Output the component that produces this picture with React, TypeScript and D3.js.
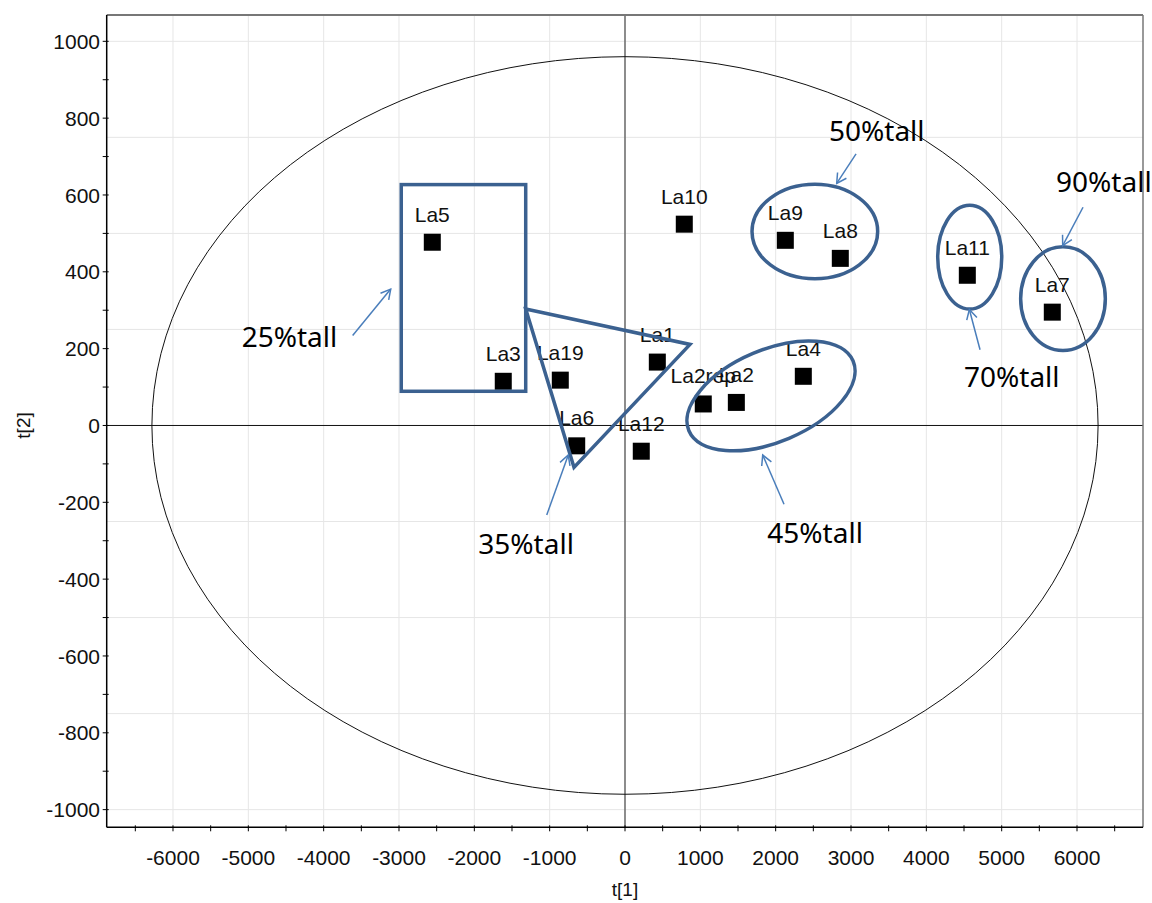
import React from "react";
import { scaleLinear, range } from "d3";

const names = ["La5", "La3", "La19", "La6", "La1", "La12", "La10", "La2rep", "La2", "La4", "La9", "La8", "La11", "La7"];
const t1 = [-2558, -1616, -859, -641, 429, 216, 787, 1039, 1478, 2367, 2128, 2858, 4544, 5672];
const t2 = [477, 115, 118, -53, 165, -67, 524, 56, 60, 128, 482, 435, 391, 295];

const xTickValues = [-6000, -5000, -4000, -3000, -2000, -1000, 0, 1000, 2000, 3000, 4000, 5000, 6000];
const yTickValues = [-1000, -800, -600, -400, -200, 0, 200, 400, 600, 800, 1000];

// Hotelling T2 ellipse half axes (t[1], t[2])
const hotelling = [6280, 960];

// group annotations, in data units
const groupEllipses = [
  { cx: 2520, cy: 505, rx: 834, ry: 123, angle: 0 },
  { cx: 4576, cy: 438, rx: 425, ry: 135, angle: 0 },
  { cx: 5814, cy: 330, rx: 562, ry: 135, angle: 0 },
  { cx: 1938, cy: 77, rx: 1184, ry: 120, angle: -23 },
];
const groupRect = { x0: -2970, x1: -1318, y0: 89, y1: 627 };
const groupTriangle = [[-1318, 303], [863, 211], [-677, -109]];

const noteLabels = ["25%tall", "35%tall", "45%tall", "50%tall", "70%tall", "90%tall"];
const noteText = [[-5088, 205], [-1947, -334], [1889, -307], [2708, 741], [4500, 100], [5722, 608]];
const noteArrowFrom = [[-3615, 234], [-1039, -233], [2111, -205], [3067, 707], [4713, 197], [6080, 568]];
const noteArrowTo = [[-3110, 355], [-753, -77], [1828, -77], [2810, 630], [4571, 302], [5810, 468]];

export default function App() {
  const width = 1152;
  const height = 903;
  const plot = { left: 106.7, right: 1143, top: 15, bottom: 827.3 };

  const x = scaleLinear().domain([-6880, 6876]).range([plot.left, plot.right]);
  const y = scaleLinear().domain([-1046, 1068.5]).range([plot.bottom, plot.top]);

  const xGrid = range(-6000, 6001, 1000);
  const yGrid = range(-1000, 1001, 250);
  const xMinor = range(-6500, 6501, 500);
  const yMinor = range(-1000, 1001, 100);

  const shapeColor = "#3b6190";
  const arrowColor = "#4a7ebb";
  const tickFont = "'Liberation Sans', Arial, sans-serif";

  const arrowHead = (x1, y1, x2, y2) => {
    const a = Math.atan2(y2 - y1, x2 - x1);
    const len = 11;
    const p1 = [x2 - len * Math.cos(a - 0.5), y2 - len * Math.sin(a - 0.5)];
    const p2 = [x2 - len * Math.cos(a + 0.5), y2 - len * Math.sin(a + 0.5)];
    return `M${p1[0]},${p1[1]}L${x2},${y2}L${p2[0]},${p2[1]}`;
  };

  return (
    <svg
      width={width}
      height={height}
      style={{ position: "absolute", left: 0, top: 0, background: "white" }}
    >
      {/* grid */}
      <g stroke="#e6e6e6" strokeWidth={1}>
        {xGrid.map(v => (
          <line key={`gx${v}`} x1={x(v)} x2={x(v)} y1={plot.top} y2={plot.bottom} />
        ))}
        {yGrid.map(v => (
          <line key={`gy${v}`} x1={plot.left} x2={plot.right} y1={y(v)} y2={y(v)} />
        ))}
      </g>

      {/* zero lines */}
      <line x1={plot.left} x2={plot.right} y1={y(0)} y2={y(0)} stroke="#111" strokeWidth={1} />
      <line x1={x(0)} x2={x(0)} y1={plot.top} y2={plot.bottom} stroke="#555" strokeWidth={1.3} />

      {/* Hotelling ellipse */}
      <ellipse
        cx={x(0)}
        cy={y(0)}
        rx={x(hotelling[0]) - x(0)}
        ry={y(0) - y(hotelling[1])}
        fill="none"
        stroke="#111"
        strokeWidth={1}
      />

      {/* frame */}
      <line x1={plot.left} x2={plot.right} y1={plot.top} y2={plot.top} stroke="#777" strokeWidth={2} />
      <line x1={plot.right} x2={plot.right} y1={plot.top} y2={plot.bottom} stroke="#777" strokeWidth={1.5} />
      <line x1={plot.left} x2={plot.left} y1={plot.top} y2={plot.bottom} stroke="#000" strokeWidth={1.5} />
      <line x1={plot.left} x2={plot.right} y1={plot.bottom} y2={plot.bottom} stroke="#000" strokeWidth={1.5} />

      {/* ticks */}
      <g stroke="#000" strokeWidth={1}>
        {xMinor.map(v => (
          <line key={`tx${v}`} x1={x(v)} x2={x(v)} y1={plot.bottom - 2} y2={plot.bottom + 4} />
        ))}
        {yMinor.map(v => (
          <line key={`ty${v}`} x1={plot.left - 4} x2={plot.left + 2} y1={y(v)} y2={y(v)} />
        ))}
      </g>
      <g fontFamily={tickFont} fontSize={21} fill="#111">
        {xTickValues.map(v => (
          <text key={`lx${v}`} x={x(v)} y={865} textAnchor="middle">{v}</text>
        ))}
        {yTickValues.map(v => (
          <text key={`ly${v}`} x={100} y={y(v)} dy="0.36em" textAnchor="end">{v}</text>
        ))}
      </g>
      <text x={x(0)} y={896} textAnchor="middle" fontFamily={tickFont} fontSize={19} fill="#111">t[1]</text>
      <text
        transform={`translate(23,${y(0)}) rotate(-90)`}
        textAnchor="middle"
        dy="0.35em"
        fontFamily={tickFont}
        fontSize={19}
        fill="#111"
      >
        t[2]
      </text>

      {/* observations */}
      <g>
        {names.map((n, i) => (
          <g key={n}>
            <rect x={x(t1[i]) - 8.5} y={y(t2[i]) - 8.5} width={17} height={17} fill="#000" />
            <text
              x={x(t1[i])}
              y={y(t2[i]) - 20.5}
              textAnchor="middle"
              fontFamily={tickFont}
              fontSize={21}
              fill="#111"
            >
              {n}
            </text>
          </g>
        ))}
      </g>

      {/* group outlines */}
      <g fill="none" stroke={shapeColor} strokeWidth={3.5}>
        <rect
          x={x(groupRect.x0)}
          y={y(groupRect.y1)}
          width={x(groupRect.x1) - x(groupRect.x0)}
          height={y(groupRect.y0) - y(groupRect.y1)}
        />
        <path
          d={"M" + groupTriangle.map(p => `${x(p[0])},${y(p[1])}`).join("L") + "Z"}
          strokeLinejoin="miter"
        />
        {groupEllipses.map((e, i) => (
          <ellipse
            key={`e${i}`}
            cx={x(e.cx)}
            cy={y(e.cy)}
            rx={x(e.rx) - x(0)}
            ry={y(0) - y(e.ry)}
            transform={`rotate(${e.angle},${x(e.cx)},${y(e.cy)})`}
          />
        ))}
      </g>

      {/* notes */}
      <g stroke={arrowColor} strokeWidth={1.5} fill="none">
        {noteArrowFrom.map((f, i) => {
          const x1 = x(f[0]), y1 = y(f[1]);
          const x2 = x(noteArrowTo[i][0]), y2 = y(noteArrowTo[i][1]);
          return (
            <g key={`a${i}`}>
              <line x1={x1} y1={y1} x2={x2} y2={y2} />
              <path d={arrowHead(x1, y1, x2, y2)} />
            </g>
          );
        })}
      </g>
      <g fontFamily="'Noto Sans', 'Open Sans', sans-serif" fontSize={28} fill="#000">
        {noteLabels.map((t, i) => (
          <text key={t} x={x(noteText[i][0])} y={y(noteText[i][1])}>{t}</text>
        ))}
      </g>
    </svg>
  );
}
